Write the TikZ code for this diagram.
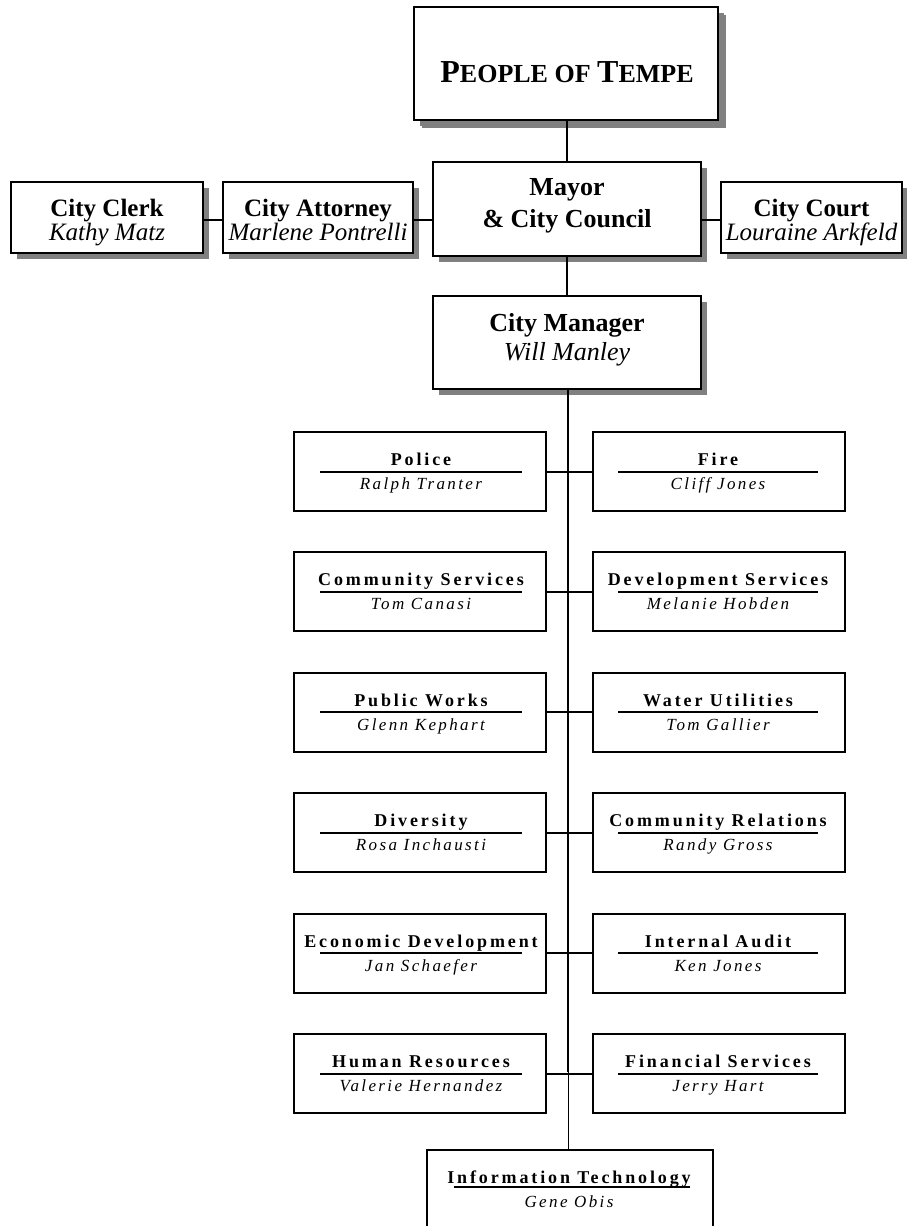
\documentclass[tikz,border=0pt]{standalone}
\usepackage{fontspec}
\setmainfont{Liberation Serif}
\newfontfamily\sptitle[LetterSpace=16]{Liberation Serif}
\newfontfamily\spname[LetterSpace=14]{Liberation Serif}
\usetikzlibrary{shadows}
\definecolor{shadowgray}{HTML}{808080}
\tikzset{
  topbox/.style={draw, line width=2.4pt, fill=white, inner sep=0pt, outer sep=0pt,
    drop shadow={shadow xshift=6pt, shadow yshift=-6pt, fill=shadowgray, opacity=1}},
  dept/.style={draw, line width=2pt, fill=white, inner sep=0pt, outer sep=0pt,
    minimum width=252pt, minimum height=79pt},
  conn/.style={line width=2pt},
  thinconn/.style={line width=1pt},
  rulel/.style={line width=2pt},
  txt/.style={inner sep=0pt, outer sep=0pt, anchor=base},
  bigbold/.style={txt, font=\fontsize{26}{30}\selectfont\bfseries},
  bigital/.style={txt, font=\fontsize{26}{30}\selectfont\itshape},
  sidebold/.style={txt, font=\fontsize{25}{28}\selectfont\bfseries},
  sideital/.style={txt, font=\fontsize{25}{28}\selectfont\itshape},
  dtitle/.style={txt, font=\fontsize{18}{20}\selectfont\sptitle\bfseries},
  dname/.style={txt, font=\fontsize{17}{19}\selectfont\spname\itshape},
}
\begin{document}
\begin{tikzpicture}[x=1pt, y=-1pt]
\useasboundingbox (0,0) rectangle (907,1226);
\clip (0,0) rectangle (907,1226);

% top boxes
\node[topbox, minimum width=304pt, minimum height=113pt,
  drop shadow={shadow xshift=8pt, shadow yshift=-8pt, fill=shadowgray, opacity=1}] (PEO) at (566,63.5) {};
\node[txt, font=\bfseries] (PEOT) at (567,82)
  {\fontsize{32}{34}\selectfont P\fontsize{26}{30}\selectfont EOPLE OF \fontsize{32}{34}\selectfont T\fontsize{26}{30}\selectfont EMPE};

\node[topbox, minimum width=268pt, minimum height=94pt] (MAY) at (567,209) {};
\node[bigbold] (MAYT1) at (567,195) {Mayor};
\node[bigbold] (MAYT2) at (567,227) {\& City Council};

\node[topbox, minimum width=192pt, minimum height=71pt] (CLK) at (107,217.5) {};
\node[sidebold] (CLKT) at (107,216) {City Clerk};
\node[sideital] (CLKN) at (107,240) {Kathy Matz};

\node[topbox, minimum width=190pt, minimum height=71pt] (ATT) at (318,217.5) {};
\node[sidebold] (ATTT) at (318,216) {City Attorney};
\node[sideital] (ATTN) at (318,240) {Marlene Pontrelli};

\node[topbox, minimum width=181pt, minimum height=71pt] (CRT) at (811.5,217.5) {};
\node[sidebold] (CRTT) at (811.5,216) {City Court};
\node[sideital] (CRTN) at (811.5,240) {Louraine Arkfeld};

\node[topbox, minimum width=268pt, minimum height=93pt] (MGR) at (567,342.5) {};
\node[bigbold] (MGRT) at (567,331) {City Manager};
\node[bigital] (MGRN) at (567,360) {Will Manley};

% top connectors
\draw[conn] (MAY.north |- PEO.south) -- (MAY.north);
\draw[conn] (MAY.south) -- (MGR.north);
\draw[conn] (CLK.east |- 0,219.5) -- (ATT.west |- 0,219.5);
\draw[conn] (ATT.east |- 0,219.5) -- (MAY.west |- 0,219.5);
\draw[conn] (MAY.east |- 0,219.5) -- (CRT.west |- 0,219.5);

% department rows
\foreach \lt/\ln/\rt/\rn [count=\i from 0] in {
  Police/Ralph Tranter/Fire/Cliff Jones,
  Community Services/Tom Canasi/Development Services/Melanie Hobden,
  Public Works/Glenn Kephart/Water Utilities/Tom Gallier,
  Diversity/Rosa Inchausti/Community Relations/Randy Gross,
  Economic Development/Jan Schaefer/Internal Audit/Ken Jones,
  Human Resources/Valerie Hernandez/Financial Services/Jerry Hart}{
  \pgfmathsetmacro\cy{471.5+120.4*\i}
  \node[dept] (L\i) at (420,\cy) {};
  \node[dept] (R\i) at (719,\cy) {};
  \draw[rulel] (320,\cy) -- (522,\cy);
  \draw[rulel] (618,\cy) -- (818,\cy);
  \node[dtitle] (LT\i) at (421,\cy-6) {\lt};
  \node[dtitle] (RT\i) at (718,\cy-6) {\rt};
  \node[dname] (LN\i) at (421,\cy+18) {\ln};
  \node[dname] (RN\i) at (718,\cy+18) {\rn};
  \draw[conn] (L\i.east) -- (R\i.west);
}

% information technology
\node[dept, minimum width=286pt, minimum height=100pt] (IT) at (570,1200) {};
\draw[rulel] (454,1187) -- (690,1187);
\node[dtitle] (ITT) at (569,1183.5) {Information Technology};
\node[dname] (ITN) at (569,1207) {Gene Obis};

% trunk
\coordinate (J) at (568,1071.5);
\draw[conn] (568,389) -- (J);
\draw[thinconn] (J) -- (568,1150);
\end{tikzpicture}
\end{document}
